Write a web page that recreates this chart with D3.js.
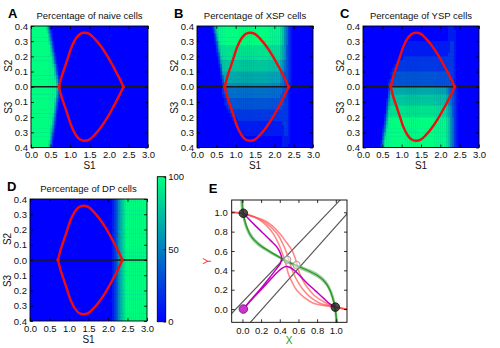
<!DOCTYPE html>
<html><head><meta charset="utf-8">
<script src="https://cdn.jsdelivr.net/npm/d3@7"></script>
<style>body{margin:0;background:#fff}svg{display:block;font-family:'Liberation Sans',Arial,sans-serif}</style>
</head><body><svg id="c" width="500" height="348"></svg>
<script>
// ---------------- DATA ----------------
const s1Ticks = [0, 0.5, 1, 1.5, 2, 2.5, 3];
const sTicks = [0.4, 0.3, 0.2, 0.1, 0, -0.1, -0.2, -0.3, -0.4]; // + = S2 (upper half), - = S3 (lower half)
const cbTicks = [0, 50, 100];
const eTicks = [0, 0.2, 0.4, 0.6, 0.8, 1.0];
const S1_STEP = 0.05, S_STEP = 0.025, S_MAX = 0.4;
// heat-map rows (digit d => d/9*100 %), run-length coded: "d*n" = d repeated n times
const naiveTop = [
"9*8 73 0*50","9*8 841 0*49","9*9 62 0*49","9*9 73 0*49","9*9 851 0*48","9*10 62 0*48","9*10 73 0*48","9*10 851 0*47",
"9*11 62 0*47","9*11 73 0*47","9*11 851 0*46","9*12 62 0*46","9*12 73 0*46","9*12 851 0*45","9*13 62 0*45","9*13 74 0*45"];
const naiveBottom = [
"9*13 74 0*45","9*13 63 0*45","9*13 52 0*45","9*12 841 0*45","9*12 73 0*46","9*12 62 0*46","9*12 51 0*46","9*11 84 0*47",
"9*11 73 0*47","9*11 62 0*47","9*10 851 0*47","9*10 74 0*48","9*10 62 0*48","9*10 51 0*48","9*9 84 0*49","9*9 73 0*49"];
const xspTop = [
"0*8 26 9*32 98754210 0*10","0*8 158 9*31 98754210 0*10","0*9 37 9*31 98754210 0*10","0*9 26 9*31 98754210 0*10",
"0*9 148 9*30 98754210 0*10","0*10 37 8*30 87653210 0*10","0*10 26 8*30 87653210 0*10","0*10 148 8*29 87653210 0*10",
"0*11 37 8*29 87653210 0*10","0*11 26 7*29 76543210 0*10","0*11 147 7*28 76543210 0*10","0*12 37 7*28 76543210 0*10",
"0*12 26 6*28 65433210 0*10","0*12 146 6*27 65433210 0*10","0*13 36 6*27 65433210 0*10","0*13 25 5*27 54432110 0*10"];
const xspBottom = [
"0*13 2 4*28 44332100 0*10","0*13 23 4*27 44332100 0*10","0*13 123 4*26 43332100 0*10","0*14 12 3*26 33322100 0*10",
"0*14 122 3*25 33322100 0*10","0*15 12 3*25 33222100 0*10","0*16 1 2*25 22222100 0*10","0*17 1 2*24 22222100 0*10",
"0*18 111 2*21 22222100 0*10","0*19 1*23 11222100 0*10","0*20 1*22 11122100 0*10","0*21 1*21 11122100 0*10",
"0*23 1*19 11122100 0*10","0*42 00111100 0*10","0*42 00111100 0*10","0*42 00111000 0*10"];
const yspTop = [
"0*42 00111000 0*10","0*42 00111100 0*10","0*42 00111100 0*10","0*42 00111100 0*10",
"0*23 1*19 11122100 0*10","0*21 1*21 11122100 0*10","0*20 1*22 11122100 0*10","0*19 1*23 11222100 0*10",
"0*18 111 2*21 22222100 0*10","0*17 1 2*24 22222100 0*10","0*16 1 2*25 22222100 0*10","0*15 12 2*25 22222100 0*10",
"0*14 122 3*25 33322100 0*10","0*14 12 3*26 33322100 0*10","0*13 123 3*26 33322100 0*10","0*13 23 3*27 33332100 0*10"];
const yspBottom = [
"0*13 25 6*27 65433210 0*10","0*13 36 6*27 65433210 0*10","0*13 47 7*27 76543210 0*10","0*12 157 7*27 76543210 0*10",
"0*12 26 7*28 76543210 0*10","0*12 37 8*28 87653210 0*10","0*12 48 8*28 87653210 0*10","0*11 15 8*29 87653210 0*10",
"0*11 26 9*29 98754210 0*10","0*11 37 9*29 98754210 0*10","0*10 148 9*29 98754210 0*10","0*10 25 9*30 98754210 0*10",
"0*10 37 9*30 98754210 0*10","0*10 48 9*30 98754210 0*10","0*9 15 9*31 98754210 0*10","0*9 26 9*31 98754210 0*10"];
const dpRow = "0*42 12356789 9*10";
// red boundary curve (S1, S2 or S3)
const boundary = [[0.718,0],[0.786,0.068],[0.872,0.133],[0.957,0.199],[1.043,0.264],[1.154,0.319],[1.256,0.348],[1.367,0.356],
 [1.496,0.348],[1.624,0.319],[1.769,0.275],[1.94,0.21],[2.11,0.133],[2.265,0.057],[2.37,0]];
// panel E
const eGrayLines = [[[-0.13,-0.06],[1.05,1.13]], [[0.082,-0.14],[1.125,0.99]]];
const eRed = [
 [[-0.12,1.0],[-0.05,0.998],[0.01,0.985],[0.1,0.96],[0.225,0.92],[0.32,0.86],[0.40,0.78],[0.47,0.69],[0.53,0.61],[0.57,0.51],[0.60,0.40],[0.64,0.31],[0.69,0.23],[0.77,0.14],[0.87,0.075],[0.95,0.04],[1.0,0.02],[1.06,0.005],[1.13,-0.005]],
 [[-0.12,1.0],[0.01,0.985],[0.12,0.955],[0.25,0.89],[0.37,0.78],[0.43,0.68],[0.475,0.576],[0.51,0.47],[0.546,0.37],[0.60,0.27],[0.653,0.196],[0.73,0.12],[0.83,0.06],[0.93,0.035],[1.0,0.02],[1.13,-0.005]],
 [[-0.12,1.0],[0.01,0.985],[0.154,0.94],[0.26,0.86],[0.33,0.78],[0.39,0.67],[0.44,0.54],[0.47,0.45],[0.49,0.37],[0.53,0.28],[0.58,0.196],[0.66,0.12],[0.76,0.06],[0.88,0.035],[1.0,0.02],[1.13,-0.005]]];
const eGreen = [
 [[-0.005,1.13],[0.005,1.0],[0.03,0.88],[0.08,0.76],[0.16,0.67],[0.27,0.6],[0.4,0.53],[0.5,0.48],[0.6,0.43],[0.72,0.38],[0.83,0.32],[0.91,0.24],[0.96,0.13],[0.99,0.03],[1.012,-0.14]],
 [[-0.012,1.13],[0.0,1.0],[0.045,0.85],[0.11,0.74],[0.21,0.65],[0.34,0.57],[0.46,0.505],[0.56,0.46],[0.68,0.415],[0.8,0.36],[0.89,0.285],[0.95,0.18],[0.985,0.06],[1.005,-0.14]],
 [[0.0,1.13],[0.01,1.0],[0.04,0.87],[0.095,0.75],[0.19,0.66],[0.31,0.585],[0.43,0.52],[0.53,0.47],[0.64,0.425],[0.76,0.37],[0.865,0.3],[0.935,0.2],[0.975,0.08],[1.015,-0.14]]];
const eTrajUp = [[0.01,0.0],[0.1,0.105],[0.2,0.215],[0.3,0.335],[0.36,0.41],[0.405,0.47],[0.42,0.53],[0.405,0.58],[0.37,0.64],[0.30,0.71],[0.225,0.78],[0.12,0.88],[0.03,0.97]];
const eTrajDown = [[0.01,0.0],[0.1,0.1],[0.2,0.2],[0.3,0.305],[0.38,0.385],[0.43,0.425],[0.47,0.44],[0.51,0.43],[0.55,0.405],[0.62,0.34],[0.69,0.27],[0.78,0.19],[0.87,0.11],[0.94,0.05],[0.99,0.02]];
const eStable = [[0.01,0.99],[0.995,0.02]];
const eUnstable = [[0.48,0.51],[0.58,0.455]];
const eStart = [[0.01,0.0]];

// ---------------- DRAW ----------------
const svg = d3.select('#c');
const winter = d3.interpolateRgb('#0000ff', '#00ff80');
const TXT = '#111';
function expand(code){ let s=''; code.split(' ').forEach(t=>{ if(t.includes('*')){const [d,n]=t.split('*'); s+=d.repeat(+n);} else s+=t; }); return s; }

const panels = [
 {key:'A', title:'Percentage of naive cells', top:naiveTop, bottom:naiveBottom, x0:31, x1:148, y0:26, y1:147.5},
 {key:'B', title:'Percentage of XSP cells', top:xspTop, bottom:xspBottom, x0:197, x1:313, y0:26, y1:147.5},
 {key:'C', title:'Percentage of YSP cells', top:yspTop, bottom:yspBottom, x0:363, x1:479, y0:26, y1:147.5},
 {key:'D', title:'Percentage of DP cells', top:d3.range(16).map(()=>dpRow), bottom:d3.range(16).map(()=>dpRow), x0:30, x1:147, y0:199, y1:321}
];
const defs = svg.append('defs');

function styleAxis(g, fs){
  g.select('.domain').remove();
  g.selectAll('line').attr('stroke','#000').attr('stroke-width',0.8);
  g.selectAll('text').attr('fill',TXT).style('font-size',fs+'px').style('font-family',"'Liberation Sans',Arial,sans-serif");
}

panels.forEach(p=>{
  const xs = d3.scaleLinear([0,3],[p.x0,p.x1]);
  const ys = d3.scaleLinear([S_MAX,-S_MAX],[p.y0,p.y1]);
  defs.append('clipPath').attr('id','clip'+p.key).append('rect')
    .attr('x',p.x0).attr('y',p.y0).attr('width',p.x1-p.x0).attr('height',p.y1-p.y0);
  const cells = [];
  p.top.forEach((code,i)=>{ const s=expand(code); for(let k=0;k<s.length;k++) cells.push({s1:k*S1_STEP, hi:S_MAX-i*S_STEP, lo:S_MAX-(i+1)*S_STEP, v:+s[k]/9}); });
  p.bottom.forEach((code,j)=>{ const s=expand(code); for(let k=0;k<s.length;k++) cells.push({s1:k*S1_STEP, hi:-j*S_STEP, lo:-(j+1)*S_STEP, v:+s[k]/9}); });
  const g = svg.append('g');
  const hg = g.append('g').attr('clip-path',`url(#clip${p.key})`);
  hg.append('rect').attr('x',p.x0).attr('y',p.y0).attr('width',p.x1-p.x0).attr('height',p.y1-p.y0).attr('fill','#0000ff');
  hg.selectAll('rect.cell').data(cells).join('rect').attr('class','cell')
    .attr('x',d=>xs(d.s1)).attr('y',d=>ys(d.hi))
    .attr('width',xs(S1_STEP)-xs(0)+0.4).attr('height',d=>ys(d.lo)-ys(d.hi)+0.4)
    .attr('fill',d=>winter(d.v));
  // midline
  hg.append('line').attr('x1',xs(0)).attr('x2',xs(3)).attr('y1',ys(0)).attr('y2',ys(0))
    .attr('stroke','#1a1a1a').attr('stroke-width',1.3);
  const line = d3.line().x(d=>xs(d[0])).y(d=>ys(d[1])).curve(d3.curveCatmullRom);
  hg.append('path').attr('d',line(boundary)).attr('fill','none').attr('stroke','#f20d0d').attr('stroke-width',2.4);
  hg.append('path').attr('d',line(boundary.map(d=>[d[0],-d[1]]))).attr('fill','none').attr('stroke','#f20d0d').attr('stroke-width',2.4);
  [boundary[0], boundary[boundary.length-1]].forEach(d=>{
    hg.append('circle').attr('cx',xs(d[0])).attr('cy',ys(0)).attr('r',1.8).attr('fill','#f20d0d');
  });
  // frame
  g.append('rect').attr('x',p.x0).attr('y',p.y0).attr('width',p.x1-p.x0).attr('height',p.y1-p.y0)
    .attr('fill','none').attr('stroke','#000').attr('stroke-width',0.9);
  // axes (ticks inward)
  g.append('g').attr('transform',`translate(0,${p.y1})`)
    .call(d3.axisBottom(xs).tickValues(s1Ticks).tickSize(-3).tickPadding(4).tickFormat(d3.format('.1f')))
    .call(a=>styleAxis(a,9.5));
  g.append('g').attr('transform',`translate(0,${p.y0})`)
    .call(d3.axisTop(xs).tickValues(s1Ticks).tickSize(-3).tickFormat(''))
    .call(a=>styleAxis(a,9.5));
  g.append('g').attr('transform',`translate(${p.x0},0)`)
    .call(d3.axisLeft(ys).tickValues(sTicks).tickSize(-3).tickPadding(3).tickFormat(d=>Math.abs(d).toFixed(1)))
    .call(a=>styleAxis(a,9.5));
  g.append('g').attr('transform',`translate(${p.x1},0)`)
    .call(d3.axisRight(ys).tickValues(sTicks).tickSize(-3).tickFormat(''))
    .call(a=>styleAxis(a,9.5));
  const cx = (p.x0+p.x1)/2;
  g.append('text').attr('x',cx).attr('y',p.y0-7.5).attr('text-anchor','middle').attr('fill',TXT).style('font-size','9.5px').text(p.title);
  g.append('text').attr('x',p.x0-23).attr('y',p.y0-8.5).attr('fill','#000').style('font-size','13px').style('font-weight','bold').text(p.key);
  g.append('text').attr('x',cx).attr('y',p.y1+21.5).attr('text-anchor','middle').attr('fill',TXT).style('font-size','10px').text('S1');
  g.append('text').attr('transform',`translate(${p.x0-19},${ys(0)-21}) rotate(-90)`).attr('text-anchor','middle').attr('fill',TXT).style('font-size','10px').text('S2');
  g.append('text').attr('transform',`translate(${p.x0-19},${ys(0)+21}) rotate(-90)`).attr('text-anchor','middle').attr('fill',TXT).style('font-size','10px').text('S3');
});

// colorbar
(function(){
  const x0=157.3, x1=165.7, y0=176.7, y1=321.7;
  const cs = d3.scaleLinear([0,100],[y1,y0]);
  const grad = defs.append('linearGradient').attr('id','cbg').attr('x1',0).attr('y1',1).attr('x2',0).attr('y2',0);
  d3.range(0,1.0001,0.1).forEach(t=>grad.append('stop').attr('offset',t).attr('stop-color',winter(t)));
  svg.append('rect').attr('x',x0).attr('y',y0).attr('width',x1-x0).attr('height',y1-y0).attr('fill','url(#cbg)')
    .attr('stroke','#000').attr('stroke-width',0.9);
  svg.append('g').attr('transform',`translate(${x1},0)`)
    .call(d3.axisRight(cs).tickValues(cbTicks).tickSize(-2).tickPadding(2.5).tickFormat(d3.format('d')))
    .call(a=>styleAxis(a,9.5));
})();

// panel E
(function(){
  const x0=231.7, x1=347, y0=200, y1=322.3;
  const ex = d3.scaleLinear([-0.115,1.12],[x0,x1]);
  const ey = d3.scaleLinear([-0.137,1.127],[y1,y0]);
  defs.append('clipPath').attr('id','clipE').append('rect').attr('x',x0).attr('y',y0).attr('width',x1-x0).attr('height',y1-y0);
  const g = svg.append('g');
  const pg = g.append('g').attr('clip-path','url(#clipE)');
  const line = d3.line().x(d=>ex(d[0])).y(d=>ey(d[1])).curve(d3.curveCatmullRom);
  eGrayLines.forEach(l=>pg.append('path').attr('d',d3.line().x(d=>ex(d[0])).y(d=>ey(d[1]))(l)).attr('stroke','#555').attr('stroke-width',1.2).attr('fill','none'));
  eRed.forEach(c=>pg.append('path').attr('d',line(c)).attr('fill','none').attr('stroke','#ff4a4a').attr('stroke-opacity',0.65).attr('stroke-width',1.6));
  eGreen.forEach((c,i)=>pg.append('path').attr('d',line(c)).attr('fill','none')
     .attr('stroke', i===2 ? '#1e8c1e' : '#3aa53a').attr('stroke-opacity', i===2 ? 0.85 : 0.5).attr('stroke-width', i===2 ? 1.2 : 2.2));
  [eTrajUp, eTrajDown].forEach(c=>pg.append('path').attr('d',line(c)).attr('fill','none').attr('stroke','#bf00bf').attr('stroke-width',1.5));
  pg.selectAll('circle.u').data(eUnstable).join('circle').attr('class','u').attr('cx',d=>ex(d[0])).attr('cy',d=>ey(d[1])).attr('r',3.6)
    .attr('fill','#fff').attr('fill-opacity',0.5).attr('stroke','#9a9a9a').attr('stroke-width',1);
  pg.selectAll('circle.s').data(eStable).join('circle').attr('class','s').attr('cx',d=>ex(d[0])).attr('cy',d=>ey(d[1])).attr('r',4.3)
    .attr('fill','#222').attr('fill-opacity',0.8).attr('stroke','#111').attr('stroke-width',0.8);
  pg.selectAll('circle.st').data(eStart).join('circle').attr('class','st').attr('cx',d=>ex(d[0])).attr('cy',d=>ey(d[1])).attr('r',4.3)
    .attr('fill','#cc33cc').attr('stroke','#6a106a').attr('stroke-width',0.8);
  g.append('rect').attr('x',x0).attr('y',y0).attr('width',x1-x0).attr('height',y1-y0).attr('fill','none').attr('stroke','#000').attr('stroke-width',0.9);
  g.append('g').attr('transform',`translate(0,${y1})`).call(d3.axisBottom(ex).tickValues(eTicks).tickSize(-3).tickPadding(4.5).tickFormat(d3.format('.1f'))).call(a=>styleAxis(a,9.5));
  g.append('g').attr('transform',`translate(0,${y0})`).call(d3.axisTop(ex).tickValues(eTicks).tickSize(-3).tickFormat('')).call(a=>styleAxis(a,9.5));
  g.append('g').attr('transform',`translate(${x0},0)`).call(d3.axisLeft(ey).tickValues(eTicks).tickSize(-3).tickPadding(4).tickFormat(d3.format('.1f'))).call(a=>styleAxis(a,9.5));
  g.append('g').attr('transform',`translate(${x1},0)`).call(d3.axisRight(ey).tickValues(eTicks).tickSize(-3).tickFormat('')).call(a=>styleAxis(a,9.5));
  g.append('text').attr('x',x0-23).attr('y',193).attr('fill','#000').style('font-size','13px').style('font-weight','bold').text('E');
  g.append('text').attr('x',(ex(0)+ex(1))/2).attr('y',344).attr('text-anchor','middle').attr('fill','#2a9a2a').style('font-size','10px').text('X');
  g.append('text').attr('transform',`translate(210.5,${(y0+y1)/2}) rotate(-90)`).attr('text-anchor','middle').attr('fill','#ff3030').style('font-size','10px').text('Y');
})();
</script></body></html>
